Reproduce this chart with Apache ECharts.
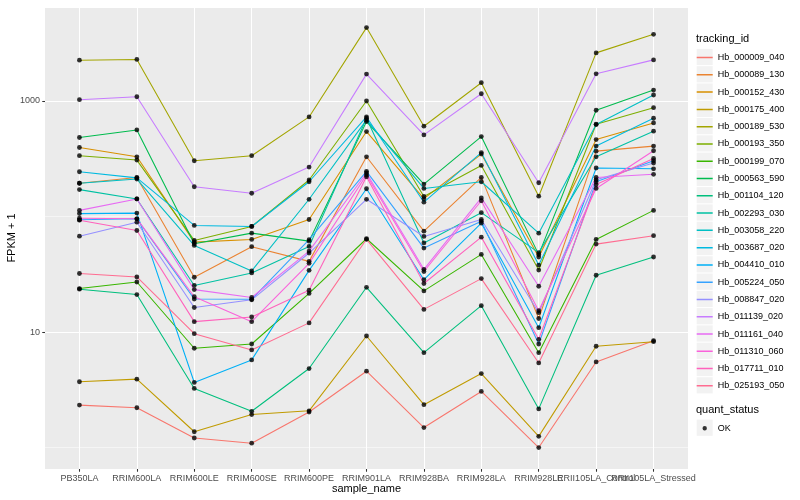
<!DOCTYPE html>
<html>
<head>
<meta charset="utf-8">
<script src="https://cdn.jsdelivr.net/npm/echarts@6/dist/echarts.min.js"></script>
<style>html,body{margin:0;padding:0;background:#fff}#chart{width:800px;height:500px}</style>
</head>
<body>
<div id="chart"></div>
<script>
// ---------- data ----------
const categories = ['PB350LA','RRIM600LA','RRIM600LE','RRIM600SE','RRIM600PE','RRIM901LA','RRIM928BA','RRIM928LA','RRIM928LE','RRII105LA_Control','RRII105LA_Stressed'];

const trackingIds = ['Hb_000009_040','Hb_000089_130','Hb_000152_430','Hb_000175_400','Hb_000189_530','Hb_000193_350','Hb_000199_070','Hb_000563_590','Hb_001104_120','Hb_002293_030','Hb_003058_220','Hb_003687_020','Hb_004410_010','Hb_005224_050','Hb_008847_020','Hb_011139_020','Hb_011161_040','Hb_011310_060','Hb_017711_010','Hb_025193_050'];

const Hb_000009_040 = [2.33, 2.21, 1.21, 1.09, 2.03, 4.58, 1.49, 3.06, 1.00, 5.51, 8.41];
const Hb_000089_130 = [194, 218, 29.8, 54.8, 40.9, 329, 74.7, 218, 13.1, 368, 407];
const Hb_000152_430 = [396, 329, 60.0, 63.3, 94.2, 544, 143, 347, 44.6, 464, 646];
const Hb_000175_400 = [3.71, 3.91, 1.37, 1.93, 2.08, 9.24, 2.35, 4.37, 1.25, 7.53, 8.25];
const Hb_000189_530 = [2256, 2290, 304, 336, 728, 4320, 605, 1440, 150, 2610, 3780];
const Hb_000193_350 = [336, 308, 62.1, 82.0, 207, 1000, 149, 277, 34.4, 630, 875];
const Hb_000199_070 = [23.8, 27.1, 7.24, 7.88, 21.6, 64.2, 22.7, 47.0, 6.63, 63.3, 113];
const Hb_000563_590 = [483, 562, 58.2, 71.8, 61.2, 663, 191, 492, 46.8, 832, 1244];
const Hb_001104_120 = [23.5, 21.1, 3.25, 2.06, 4.83, 24.4, 6.63, 16.9, 2.16, 31.0, 44.6];
const Hb_002293_030 = [171, 142, 25.3, 32.5, 55.1, 709, 59.1, 108, 48.7, 329, 548];
const Hb_003058_220 = [194, 211, 56.2, 33.8, 141, 686, 175, 200, 71.8, 625, 1127];
const Hb_003687_020 = [244, 216, 83.7, 82, 200, 728, 133, 358, 38.0, 407, 709];
const Hb_004410_010 = [106, 107, 3.66, 5.74, 34.2, 174, 28.4, 87.6, 10.9, 263, 259];
const Hb_005224_050 = [93.7, 95.5, 19.3, 19.2, 63.0, 246, 53.3, 91.1, 7.88, 200, 304];
const Hb_008847_020 = [67.6, 89.3, 16.3, 19.0, 48.3, 141, 67.2, 94.2, 14.7, 208, 290];
const Hb_011139_020 = [1026, 1089, 181, 159, 268, 1709, 509, 1156, 196, 1719, 2270];
const Hb_011161_040 = [113, 142, 23.3, 19.9, 50.2, 238, 34.9, 145, 24.9, 218, 232];
const Hb_011310_060 = [96.7, 95.5, 20.2, 12.3, 39.3, 229, 33.4, 137, 15.3, 175, 371];
const Hb_017711_010 = [93, 75.7, 12.3, 13.5, 23.0, 221, 26.3, 66.3, 8.65, 189, 318];
const Hb_025193_050 = [32.1, 30.0, 9.67, 7.00, 12.0, 63.5, 15.7, 29.0, 5.40, 57.7, 68.2];

const seriesValues = [Hb_000009_040, Hb_000089_130, Hb_000152_430, Hb_000175_400, Hb_000189_530, Hb_000193_350, Hb_000199_070, Hb_000563_590, Hb_001104_120, Hb_002293_030, Hb_003058_220, Hb_003687_020, Hb_004410_010, Hb_005224_050, Hb_008847_020, Hb_011139_020, Hb_011161_040, Hb_011310_060, Hb_017711_010, Hb_025193_050];

const yTickLabels = [10, 1000];
const yMinorBreaks = [1, 100];
const quantStatus = ['OK'];

// ---------- styles ----------
const palette = ['#F8766D','#EA8331','#D89000','#C09B00','#A3A500','#7CAE00','#39B600','#00BB4E','#00BF7D','#00C1A3','#00BFC4','#00BAE0','#00B0F6','#35A2FF','#9590FF','#C77CFF','#E76BF3','#FA62DB','#FF62BC','#FF6C91'];
const FONT = '"Liberation Sans", Arial, Helvetica, sans-serif';
const catIndex = categories.map((c, i) => i);
const evenIndex = catIndex.filter(i => i % 2 === 0);
const oddIndex = catIndex.filter(i => i % 2 === 1);

const lineSeries = trackingIds.map((id, k) => ({
  name: id,
  type: 'line',
  data: seriesValues[k].map((v, i) => [i, v]),
  showSymbol: false,
  symbol: 'none',
  color: palette[k],
  itemStyle: { color: palette[k] },
  lineStyle: { width: 1.07, color: palette[k] },
  silent: true,
  z: 2,
  animation: false
}));

const pointData = [];
seriesValues.forEach(vals => vals.forEach((v, i) => pointData.push([i, v])));

const pointSeries = {
  name: 'OK',
  type: 'scatter',
  data: pointData,
  symbol: 'circle',
  symbolSize: 4.8,
  color: '#000000',
  itemStyle: { color: '#000000' },
  silent: true,
  z: 3,
  animation: false
};

const lineKeyIcon = 'path://M0,0L0.01,0L0,0.01Z M16,17.28L15.99,17.28L16,17.27Z M0,7.9L16,7.9L16,9.4L0,9.4Z';
const pointKeyIcon = 'path://M0,0L0.01,0L0,0.01Z M16,17.28L15.99,17.28L16,17.27Z M5.8,8.64A2.2,2.2 0 1,1 10.2,8.64A2.2,2.2 0 1,1 5.8,8.64Z';

const decorations = [];
for (let i = 0; i < trackingIds.length; i++) {
  decorations.push({ type: 'rect', left: 696.7, top: 48.9 + i * 17.28, shape: { width: 16, height: 16.2 }, style: { fill: '#F2F2F2' }, z: -1, silent: true });
}
decorations.push({ type: 'rect', left: 696.7, top: 419.6, shape: { width: 16, height: 16.2 }, style: { fill: '#F2F2F2' }, z: -1, silent: true });
// axis titles
decorations.push({ type: 'text', x: 12, y: 238, rotation: Math.PI / 2, silent: true, style: { text: 'FPKM + 1', fill: '#000', font: '11px ' + FONT, align: 'center', verticalAlign: 'middle' } });
decorations.push({ type: 'text', x: 366.5, y: 489, silent: true, style: { text: 'sample_name', fill: '#000', font: '11px ' + FONT, align: 'center', verticalAlign: 'middle' } });

const xLabelStyle = { show: true, margin: 5, fontSize: 9, color: '#4D4D4D', fontFamily: FONT, hideOverlap: false, showMinLabel: true, showMaxLabel: true, formatter: v => categories[Math.round(v)] };

const chart = echarts.init(document.getElementById('chart'), null, { renderer: 'canvas' });
chart.setOption({
  animation: false,
  backgroundColor: '#FFFFFF',
  textStyle: { fontFamily: FONT },
  grid: { left: 45, right: 112, top: 8, bottom: 31, show: true, backgroundColor: '#EBEBEB', borderWidth: 0, containLabel: false, outerBoundsMode: 'none' },
  title: [
    { text: 'tracking_id', left: 696, top: 33, padding: 0, textStyle: { fontSize: 11, fontWeight: 'normal', color: '#000', fontFamily: FONT } },
    { text: 'quant_status', left: 696, top: 404, padding: 0, textStyle: { fontSize: 11, fontWeight: 'normal', color: '#000', fontFamily: FONT } }
  ],
  legend: [
    {
      data: trackingIds,
      orient: 'vertical',
      left: 696.7, top: 48.9,
      padding: 0,
      itemWidth: 16, itemHeight: 17.28, itemGap: 0,
      icon: lineKeyIcon,
      itemStyle: { borderWidth: 0 },
      selectedMode: false,
      textStyle: { fontSize: 9, color: '#000', fontFamily: FONT }
    },
    {
      data: quantStatus,
      orient: 'vertical',
      left: 696.7, top: 419.6,
      padding: 0,
      itemWidth: 16, itemHeight: 17.28, itemGap: 0,
      icon: pointKeyIcon,
      itemStyle: { borderWidth: 0, color: '#000' },
      selectedMode: false,
      textStyle: { fontSize: 9, color: '#000', fontFamily: FONT }
    }
  ],
  xAxis: [
    {
      type: 'value',
      min: -0.6, max: 10.6,
      position: 'bottom',
      axisLine: { show: false, onZero: false },
      axisTick: { show: true, length: 2.75, lineStyle: { color: '#333333', width: 1.07 }, customValues: catIndex },
      axisLabel: Object.assign({ customValues: evenIndex }, xLabelStyle),
      splitLine: { show: true, lineStyle: { color: '#FFFFFF', width: 1.07 } }
    },
    {
      type: 'value',
      min: -0.6, max: 10.6,
      position: 'bottom',
      axisLine: { show: false, onZero: false },
      axisTick: { show: false, customValues: oddIndex },
      axisLabel: Object.assign({ customValues: oddIndex }, xLabelStyle),
      splitLine: { show: false }
    }
  ],
  yAxis: [
    {
      type: 'log',
      logBase: 10,
      min: 0.652, max: 6385,
      position: 'left',
      axisLine: { show: false, onZero: false },
      axisTick: { show: true, length: 2.75, lineStyle: { color: '#333333', width: 1.07 }, customValues: yTickLabels },
      axisLabel: { show: true, customValues: yTickLabels, margin: 5, fontSize: 9, color: '#4D4D4D', fontFamily: FONT, formatter: v => String(Math.round(v)) },
      splitLine: { show: true, lineStyle: { color: '#FFFFFF', width: 1.07 } }
    },
    {
      type: 'log',
      logBase: 10,
      min: 0.652, max: 6385,
      position: 'left',
      axisLine: { show: false, onZero: false },
      axisTick: { show: false, customValues: yMinorBreaks },
      axisLabel: { show: false, customValues: yMinorBreaks },
      splitLine: { show: true, lineStyle: { color: '#FFFFFF', width: 0.53 } }
    }
  ],
  graphic: decorations,
  series: lineSeries.concat([pointSeries])
});
</script>
</body>
</html>
